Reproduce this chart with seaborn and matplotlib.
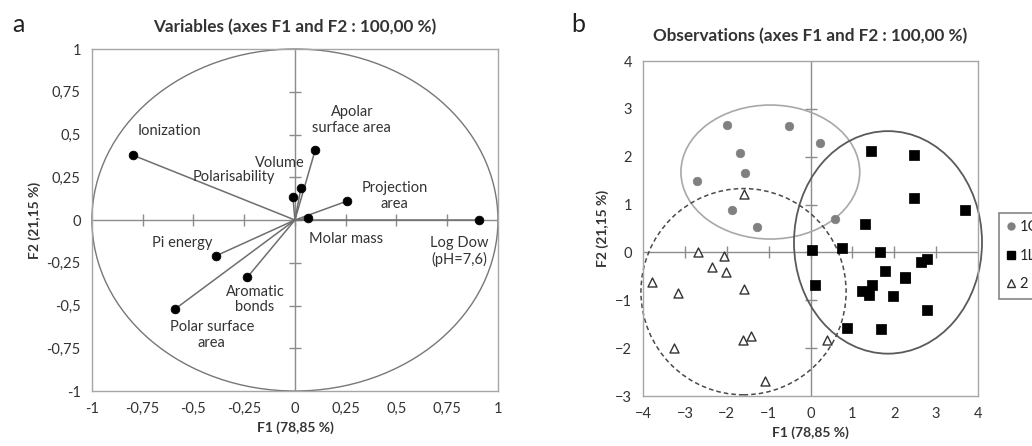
import matplotlib
matplotlib.use("Agg")
import matplotlib.pyplot as plt
from matplotlib.patches import Ellipse, Circle
from matplotlib.lines import Line2D
import pandas as pd
import seaborn as sns

# --- panel a: variable loadings on F1 / F2
var_names = ["Ionization", "Apolar\nsurface area", "Volume", "Polarisability",
             "Projection\narea", "Molar mass", "Log Dow\n(pH=7,6)", "Pi energy",
             "Aromatic\nbonds", "Polar surface\narea"]
var_f1 = [-0.80, 0.10, 0.03, -0.01, 0.255, 0.066, 0.908, -0.39, -0.234, -0.59]
var_f2 = [0.38, 0.41, 0.19, 0.135, 0.11, 0.01, 0.0, -0.21, -0.334, -0.52]
# label anchor positions (data units)
lab_f1 = [-0.62, 0.28, -0.074, -0.30, 0.49, 0.25, 0.81, -0.556, -0.197, -0.41]
lab_f2 = [0.52, 0.585, 0.336, 0.25, 0.14, -0.113, -0.186, -0.133, -0.465, -0.674]

# --- panel b: observations
obs_1c_f1 = [-2.0, -0.51, 0.23, -1.68, -1.56, -2.71, -1.87, -1.28, 0.59]
obs_1c_f2 = [2.67, 2.64, 2.28, 2.07, 1.66, 1.49, 0.88, 0.54, 0.70]
obs_1l_f1 = [1.45, 2.46, 2.46, 3.69, 1.30, 0.04, 0.76, 1.66, 2.77, 2.65, 1.78,
             2.26, 2.26, 0.11, 1.47, 1.23, 1.40, 1.96, 2.78, 0.86, 1.68]
obs_1l_f2 = [2.11, 2.03, 1.13, 0.88, 0.59, 0.05, 0.10, 0.01, -0.13, -0.20, -0.38,
             -0.51, -0.54, -0.68, -0.68, -0.81, -0.89, -0.91, -1.20, -1.58, -1.60]
obs_2_f1 = [-1.60, -2.69, -2.06, -2.36, -2.03, -3.79, -3.16, -1.60, -1.61, -1.41,
            -3.26, 0.39, -1.09]
obs_2_f2 = [1.23, 0.01, -0.07, -0.30, -0.40, -0.61, -0.85, -0.76, -1.83, -1.75,
            -1.99, -1.82, -2.68]
groups = ["1C", "1L", "2"]

# confidence ellipses (center f1, center f2, width, height)
ell_center_f1 = [-0.96, 1.85, -1.60]
ell_center_f2 = [1.68, 0.21, -0.82]
ell_width = [4.27, 4.49, 4.90]
ell_height = [2.80, 4.65, 4.31]

ticks_a = [-1, -0.75, -0.5, -0.25, 0, 0.25, 0.5, 0.75, 1]
ticks_bx = [-4, -3, -2, -1, 0, 1, 2, 3, 4]
ticks_by = [-3, -2, -1, 0, 1, 2, 3, 4]


def fmt(v):
    # french style decimals
    return ("%g" % v).replace(".", ",")


sns.set_style("white")
plt.rcParams["font.family"] = ["Lato", "DejaVu Sans"]

frame_col = "#a6a6a6"
axis_col = "#8c8c8c"
text_col = "#333333"

fig = plt.figure(figsize=(10.32, 4.46), dpi=100)

# ---------------- panel a
ax1 = fig.add_axes([0.0891, 0.1233, 0.3934, 0.7668])
ax1.set_xlim(-1, 1)
ax1.set_ylim(-1, 1)
ax1.add_patch(Circle((0, 0), 1, fill=False, ec="#777777", lw=1.0, clip_on=False))
ax1.axhline(0, color=axis_col, lw=1.0, zorder=1)
ax1.axvline(0, color=axis_col, lw=1.0, zorder=1)
ax1.plot(ticks_a[1:-1], [0] * (len(ticks_a) - 2), ls="none", marker="|", ms=8,
         mew=1.0, color=axis_col, zorder=1)
ax1.plot([0] * (len(ticks_a) - 2), ticks_a[1:-1], ls="none", marker="_", ms=8,
         mew=1.0, color=axis_col, zorder=1)
for x, y in zip(var_f1, var_f2):
    ax1.plot([0, x], [0, y], color="#6e6e6e", lw=1.1, zorder=2)
df_var = pd.DataFrame({"F1": var_f1, "F2": var_f2})
sns.scatterplot(data=df_var, x="F1", y="F2", ax=ax1, color="black", s=40,
                edgecolor="black", zorder=3, clip_on=False)
for name, x, y in zip(var_names, lab_f1, lab_f2):
    ax1.text(x, y, name, ha="center", va="center", fontsize=10.5,
             color=text_col, linespacing=1.15)
ax1.set_xticks(ticks_a)
ax1.set_yticks(ticks_a)
ax1.set_xticklabels([fmt(t) for t in ticks_a])
ax1.set_yticklabels([fmt(t) for t in ticks_a])
ax1.set_xlabel("F1 (78,85 %)", fontweight="bold", fontsize=10, color=text_col,
               labelpad=4)
ax1.set_ylabel("F2 (21,15 %)", fontweight="bold", fontsize=10, color=text_col,
               labelpad=4)
ax1.set_title("Variables (axes F1 and F2 : 100,00 %)", fontweight="bold",
              fontsize=12.3, color=text_col, pad=12)

# ---------------- panel b
ax2 = fig.add_axes([0.6231, 0.1121, 0.3246, 0.7511])
ax2.set_xlim(-4, 4)
ax2.set_ylim(-3, 4)
ax2.axhline(0, color=axis_col, lw=1.0, zorder=1)
ax2.axvline(0, color=axis_col, lw=1.0, zorder=1)
ax2.plot(ticks_bx[1:-1], [0] * (len(ticks_bx) - 2), ls="none", marker="|", ms=8,
         mew=1.0, color=axis_col, zorder=1)
ax2.plot([0] * (len(ticks_by) - 2), ticks_by[1:-1], ls="none", marker="_", ms=8,
         mew=1.0, color=axis_col, zorder=1)

ell_styles = [dict(ec="#a8a8a8", ls="-", lw=1.2),
              dict(ec="#5a5a5a", ls="-", lw=1.3),
              dict(ec="#4a4a4a", ls=(0, (3, 2)), lw=1.1)]
for cx, cy, w, h, st in zip(ell_center_f1, ell_center_f2, ell_width, ell_height,
                            ell_styles):
    ax2.add_patch(Ellipse((cx, cy), w, h, fill=False, clip_on=False, zorder=2,
                          **st))

df_obs = pd.DataFrame({
    "F1": obs_1c_f1 + obs_1l_f1 + obs_2_f1,
    "F2": obs_1c_f2 + obs_1l_f2 + obs_2_f2,
    "group": ["1C"] * len(obs_1c_f1) + ["1L"] * len(obs_1l_f1) + ["2"] * len(obs_2_f1),
})
sns.scatterplot(data=df_obs[df_obs.group == "1C"], x="F1", y="F2", ax=ax2,
                color="#808080", edgecolor="#808080", marker="o", s=38,
                zorder=3, legend=False)
sns.scatterplot(data=df_obs[df_obs.group == "1L"], x="F1", y="F2", ax=ax2,
                color="black", edgecolor="black", marker="s", s=42,
                zorder=3, legend=False)
sns.scatterplot(data=df_obs[df_obs.group == "2"], x="F1", y="F2", ax=ax2,
                facecolor="white", edgecolor="#333333", marker="^", s=42,
                linewidth=1.0, zorder=3, legend=False)
ax2.set_xticks(ticks_bx)
ax2.set_yticks(ticks_by)
ax2.set_xlabel("F1 (78,85 %)", fontweight="bold", fontsize=10, color=text_col,
               labelpad=4)
ax2.set_ylabel("F2 (21,15 %)", fontweight="bold", fontsize=10, color=text_col,
               labelpad=4)
ax2.set_title("Observations (axes F1 and F2 : 100,00 %)", fontweight="bold",
              fontsize=12.3, color=text_col, pad=14)

# legend sits partly past the right edge, as in the source figure
handles = [Line2D([], [], ls="none", marker="o", color="#808080", ms=5),
           Line2D([], [], ls="none", marker="s", color="black", ms=6),
           Line2D([], [], ls="none", marker="^", mfc="white", mec="#333333", ms=6)]
leg = fig.legend(handles, groups, loc="upper left",
                 bbox_to_anchor=(999 / 1032, 1 - 213 / 446), frameon=True,
                 fontsize=10.5, handlelength=0.6, handletextpad=0.3,
                 labelspacing=1.0, borderpad=0.5, fancybox=False,
                 borderaxespad=0)
leg.get_frame().set_edgecolor("#666666")
leg.get_frame().set_linewidth(1.2)

for ax in (ax1, ax2):
    for sp in ax.spines.values():
        sp.set_color(frame_col)
        sp.set_linewidth(1.0)
    ax.tick_params(length=0, labelsize=10.5, colors=text_col, pad=8)

fig.text(18 / 1032, 1 - 25 / 446, "a", fontsize=18, ha="center", va="center",
         color="#222222")
fig.text(578 / 1032, 1 - 25 / 446, "b", fontsize=18, ha="center", va="center",
         color="#222222")

fig.savefig("out.png", dpi=100)
